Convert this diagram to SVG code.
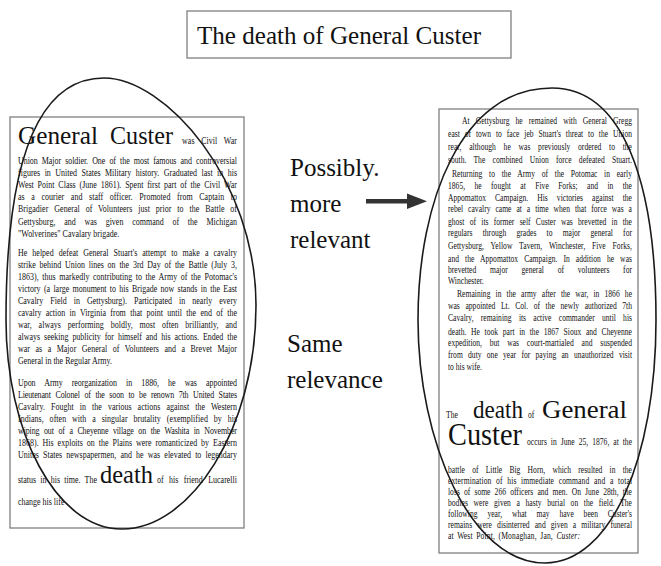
<svg xmlns="http://www.w3.org/2000/svg" width="661" height="566" viewBox="0 0 661 566">
<style>
.box{fill:#fff;stroke:#808080;stroke-width:1.3}
.t{font-family:"Liberation Serif","Times New Roman",serif;font-size:10.5px;fill:#111}
.r{font-family:"Liberation Serif","Times New Roman",serif;font-size:10px;fill:#111}
.big{font-family:"Liberation Serif","Times New Roman",serif;font-size:26px;fill:#111}
.note{font-family:"Liberation Serif","Times New Roman",serif;font-size:25px;fill:#111}
.oval{fill:none;stroke:#1a1a1a;stroke-width:1.6}
</style>
<rect width="661" height="566" fill="#fff"/>
<g id="title">
<rect class="box" x="187" y="11" width="324" height="47"/>
<text class="big" x="197" y="44" textLength="284" lengthAdjust="spacingAndGlyphs">The death of General Custer</text>
</g>
<g id="left-box">
<rect class="box" x="10" y="117" width="234" height="411"/>
<text class="big" x="18" y="144" textLength="80" lengthAdjust="spacingAndGlyphs">General</text>
<text class="big" x="110" y="144" textLength="63" lengthAdjust="spacingAndGlyphs">Custer</text>
<text class="t" transform="translate(182,144) scale(0.76,1)" word-spacing="5.9" textLength="72.4" lengthAdjust="spacing">was Civil War</text>
<text class="t" transform="translate(18,163.5) scale(0.76,1)" word-spacing="2.9" textLength="288.2" lengthAdjust="spacing">Union Major soldier. One of the most famous and controversial</text>
<text class="t" transform="translate(18,175.7) scale(0.76,1)" word-spacing="3.2" textLength="288.2" lengthAdjust="spacing">figures in United States Military history. Graduated last in his</text>
<text class="t" transform="translate(18,187.9) scale(0.76,1)" word-spacing="2.3" textLength="288.2" lengthAdjust="spacing">West Point Class (June 1861). Spent first part of the Civil War</text>
<text class="t" transform="translate(18,200.1) scale(0.76,1)" word-spacing="6.1" textLength="288.2" lengthAdjust="spacing">as a courier and staff officer. Promoted from Captain to</text>
<text class="t" transform="translate(18,212.3) scale(0.76,1)" word-spacing="5.1" textLength="288.2" lengthAdjust="spacing">Brigadier General of Volunteers just prior to the Battle of</text>
<text class="t" transform="translate(18,224.5) scale(0.76,1)" word-spacing="8.9" textLength="288.2" lengthAdjust="spacing">Gettysburg, and was given command of the Michigan</text>
<text class="t" transform="translate(18,236.7) scale(0.76,1)">"Wolverines" Cavalary brigade.</text>
<text class="t" transform="translate(18,255.5) scale(0.76,1)" word-spacing="4" textLength="288.2" lengthAdjust="spacing">He helped defeat General Stuart's attempt to make a cavalry</text>
<text class="t" transform="translate(18,267.5) scale(0.76,1)" word-spacing="2.4" textLength="288.2" lengthAdjust="spacing">strike behind Union lines on the 3rd Day of the Battle (July 3,</text>
<text class="t" transform="translate(18,279.5) scale(0.76,1)" word-spacing="2.1" textLength="288.2" lengthAdjust="spacing">1863), thus markedly contributing to the Army of the Potomac's</text>
<text class="t" transform="translate(18,291.5) scale(0.76,1)" word-spacing="1.7" textLength="288.2" lengthAdjust="spacing">victory (a large monument to his Brigade now stands in the East</text>
<text class="t" transform="translate(18,303.5) scale(0.76,1)" word-spacing="6.6" textLength="288.2" lengthAdjust="spacing">Cavalry Field in Gettysburg). Participated in nearly every</text>
<text class="t" transform="translate(18,315.5) scale(0.76,1)" word-spacing="3.2" textLength="288.2" lengthAdjust="spacing">cavalry action in Virginia from that point until the end of the</text>
<text class="t" transform="translate(18,327.5) scale(0.76,1)" word-spacing="6.3" textLength="288.2" lengthAdjust="spacing">war, always performing boldly, most often brilliantly, and</text>
<text class="t" transform="translate(18,339.5) scale(0.76,1)" word-spacing="2.5" textLength="288.2" lengthAdjust="spacing">always seeking publicity for himself and his actions. Ended the</text>
<text class="t" transform="translate(18,351.5) scale(0.76,1)" word-spacing="4.5" textLength="288.2" lengthAdjust="spacing">war as a Major General of Volunteers and a Brevet Major</text>
<text class="t" transform="translate(18,363.5) scale(0.76,1)">General in the Regular Army.</text>
<text class="t" transform="translate(18,386) scale(0.76,1)" word-spacing="9.5" textLength="288.2" lengthAdjust="spacing">Upon Army reorganization in 1886, he was appointed</text>
<text class="t" transform="translate(18,398) scale(0.76,1)" word-spacing="3.6" textLength="288.2" lengthAdjust="spacing">Lieutenant Colonel of the soon to be renown 7th United States</text>
<text class="t" transform="translate(18,410) scale(0.76,1)" word-spacing="5.3" textLength="288.2" lengthAdjust="spacing">Cavalry. Fought in the various actions against the Western</text>
<text class="t" transform="translate(18,422) scale(0.76,1)" word-spacing="5" textLength="288.2" lengthAdjust="spacing">Indians, often with a singular brutality (exemplified by his</text>
<text class="t" transform="translate(18,434) scale(0.76,1)" word-spacing="3.6" textLength="288.2" lengthAdjust="spacing">wiping out of a Cheyenne village on the Washita in November</text>
<text class="t" transform="translate(18,446) scale(0.76,1)" word-spacing="2.5" textLength="288.2" lengthAdjust="spacing">1868). His exploits on the Plains were romanticized by Eastern</text>
<text class="t" transform="translate(18,458) scale(0.76,1)" word-spacing="2.8" textLength="288.2" lengthAdjust="spacing">Unites States newspapermen, and he was elevated to legendary</text>
<text class="t" transform="translate(18,483) scale(0.76,1)" word-spacing="2.9" textLength="103.9" lengthAdjust="spacing">status in his time. The</text>
<text class="big" x="100" y="483" textLength="53" lengthAdjust="spacingAndGlyphs">death</text>
<text class="t" transform="translate(157,483) scale(0.76,1)" word-spacing="4.5" textLength="105.3" lengthAdjust="spacing">of his friend Lucarelli</text>
<text class="t" transform="translate(18,505) scale(0.76,1)">change his life</text>
</g>
<g id="right-box">
<rect class="box" x="439" y="109" width="199" height="444"/>
<text class="r" transform="translate(462,123.5) scale(0.76,1)" word-spacing="5.4" textLength="223.7" lengthAdjust="spacing">At Gettysburg he remained with General Gregg</text>
<text class="r" transform="translate(448,137) scale(0.76,1)" word-spacing="3.9" textLength="242.1" lengthAdjust="spacing">east of town to face jeb Stuart's threat to the Union</text>
<text class="r" transform="translate(448,149.5) scale(0.76,1)" word-spacing="7.6" textLength="242.1" lengthAdjust="spacing">rear, although he was previously ordered to the</text>
<text class="r" transform="translate(448,162.5) scale(0.76,1)" word-spacing="7" textLength="242.1" lengthAdjust="spacing">south. The combined Union force defeated Stuart.</text>
<text class="r" transform="translate(452,176.5) scale(0.76,1)" word-spacing="6.3" textLength="236.8" lengthAdjust="spacing">Returning to the Army of the Potomac in early</text>
<text class="r" transform="translate(448,189) scale(0.76,1)" word-spacing="9.8" textLength="242.1" lengthAdjust="spacing">1865, he fought at Five Forks; and in the</text>
<text class="r" transform="translate(448,200.5) scale(0.76,1)" word-spacing="9.4" textLength="242.1" lengthAdjust="spacing">Appomattox Campaign. His victories against the</text>
<text class="r" transform="translate(448,212) scale(0.76,1)" word-spacing="4" textLength="242.1" lengthAdjust="spacing">rebel cavalry came at a time when that force was a</text>
<text class="r" transform="translate(448,224.5) scale(0.76,1)" word-spacing="4.4" textLength="242.1" lengthAdjust="spacing">ghost of its former self Custer was brevetted in the</text>
<text class="r" transform="translate(448,236) scale(0.76,1)" word-spacing="10.9" textLength="242.1" lengthAdjust="spacing">regulars through grades to major general for</text>
<text class="r" transform="translate(448,248.5) scale(0.76,1)" word-spacing="6.3" textLength="242.1" lengthAdjust="spacing">Gettysburg, Yellow Tavern, Winchester, Five Forks,</text>
<text class="r" transform="translate(448,261.5) scale(0.76,1)" word-spacing="5.4" textLength="242.1" lengthAdjust="spacing">and the Appomattox Campaign. In addition he was</text>
<text class="r" transform="translate(448,273) scale(0.76,1)" word-spacing="15.6" textLength="242.1" lengthAdjust="spacing">brevetted major general of volunteers for</text>
<text class="r" transform="translate(448,284) scale(0.76,1)">Winchester.</text>
<text class="r" transform="translate(457,297) scale(0.76,1)" word-spacing="4.2" textLength="230.3" lengthAdjust="spacing">Remaining in the army after the war, in 1866 he</text>
<text class="r" transform="translate(448,308.5) scale(0.76,1)" word-spacing="4.9" textLength="242.1" lengthAdjust="spacing">was appointed Lt. Col. of the newly authorized 7th</text>
<text class="r" transform="translate(448,321) scale(0.76,1)" word-spacing="7" textLength="242.1" lengthAdjust="spacing">Cavalry, remaining its active commander until his</text>
<text class="r" transform="translate(448,334.5) scale(0.76,1)" word-spacing="3.6" textLength="242.1" lengthAdjust="spacing">death. He took part in the 1867 Sioux and Cheyenne</text>
<text class="r" transform="translate(448,346) scale(0.76,1)" word-spacing="7.7" textLength="242.1" lengthAdjust="spacing">expedition, but was court-martialed and suspended</text>
<text class="r" transform="translate(448,358) scale(0.76,1)" word-spacing="4.4" textLength="242.1" lengthAdjust="spacing">from duty one year for paying an unauthorized visit</text>
<text class="r" transform="translate(448,369.5) scale(0.76,1)">to his wife.</text>
<text class="r" transform="translate(446,418) scale(0.76,1)">The</text>
<text class="big" x="473" y="418" textLength="50" lengthAdjust="spacingAndGlyphs">death</text>
<text class="r" transform="translate(528,418) scale(0.76,1)">of</text>
<text class="big" x="542" y="418" textLength="85" lengthAdjust="spacingAndGlyphs">General</text>
<text class="big" x="448" y="445" style="font-size:31px" textLength="74" lengthAdjust="spacingAndGlyphs">Custer</text>
<text class="r" transform="translate(527,445) scale(0.76,1)" word-spacing="2.7" textLength="138.2" lengthAdjust="spacing">occurs in June 25, 1876, at the</text>
<text class="r" transform="translate(448,473) scale(0.76,1)" word-spacing="7" textLength="242.1" lengthAdjust="spacing">battle of Little Big Horn, which resulted in the</text>
<text class="r" transform="translate(448,484) scale(0.76,1)" word-spacing="3.5" textLength="242.1" lengthAdjust="spacing">extermination of his immediate command and a total</text>
<text class="r" transform="translate(448,495) scale(0.76,1)" word-spacing="2.9" textLength="242.1" lengthAdjust="spacing">loss of some 266 officers and men. On June 28th, the</text>
<text class="r" transform="translate(448,506) scale(0.76,1)" word-spacing="4.9" textLength="242.1" lengthAdjust="spacing">bodies were given a hasty burial on the field. The</text>
<text class="r" transform="translate(448,517) scale(0.76,1)" word-spacing="10.4" textLength="242.1" lengthAdjust="spacing">following year, what may have been Custer's</text>
<text class="r" transform="translate(448,528) scale(0.76,1)" word-spacing="4.2" textLength="242.1" lengthAdjust="spacing">remains were disinterred and given a military funeral</text>
<text class="r" transform="translate(448,538.5) scale(0.76,1)" word-spacing="2" textLength="173.7" lengthAdjust="spacing">at West Point, (Monaghan, Jan, <tspan font-style="italic">Custer:</tspan></text>
</g>
<g id="note-more">
<text class="note" x="290" y="176">Possibly.</text>
<text class="note" x="290" y="212">more</text>
<text class="note" x="290" y="248">relevant</text>
</g>
<g id="note-same">
<text class="note" x="287" y="352">Same</text>
<text class="note" x="287" y="388">relevance</text>
</g>
<g id="highlights">
<path class="oval" d="M104,78 C165,78 256,180 256,305 C256,430 190,529 122,529 C55,529 6,430 6,320 C6,200 24,78 104,78 Z"/>
<path class="oval" d="M552,88 C622,88 656,180 656,320 C656,460 610,563 545,563 C470,563 418,440 418,320 C418,200 462,88 552,88 Z"/>
</g>
<g id="connectors">
<rect x="366" y="199" width="44" height="4.5" fill="#333"/>
<polygon points="407,193.5 427,201.2 407,209" fill="#333"/>
</g>
</svg>
